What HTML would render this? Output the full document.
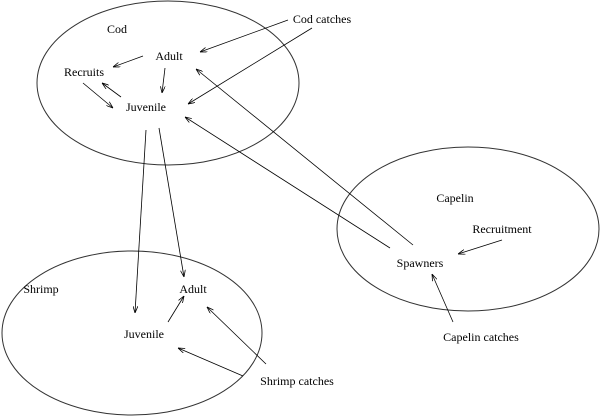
<!DOCTYPE html>
<html><head><meta charset="utf-8"><style>
html,body{margin:0;padding:0;background:#fff;width:600px;height:416px;overflow:hidden}
text{font-family:'Liberation Serif','Times New Roman','DejaVu Serif',serif;font-size:12px}
</style></head><body>
<svg width="600" height="416" viewBox="0 0 600 416" xmlns="http://www.w3.org/2000/svg">
<defs><marker id="a" markerWidth="7" markerHeight="5" refX="7" refY="2.5" orient="auto" markerUnits="userSpaceOnUse"><path d="M0,0 L7,2.5 L0,5" fill="none" stroke="#000" stroke-width="0.8"/></marker></defs>
<g fill="none" stroke="#333" stroke-width="1">
<ellipse cx="168" cy="83" rx="131" ry="82"/>
<ellipse cx="132" cy="333" rx="130" ry="82"/>
<ellipse cx="468" cy="229" rx="131" ry="82"/>
</g>
<g stroke="#000" stroke-width="0.8" marker-end="url(#a)">
<line x1="288" y1="20" x2="200" y2="52"/>
<line x1="312" y1="28" x2="188" y2="104"/>
<line x1="143" y1="56" x2="113" y2="67"/>
<line x1="165" y1="68" x2="162" y2="93"/>
<line x1="83" y1="83" x2="113" y2="108"/>
<line x1="121" y1="97" x2="102" y2="83"/>
<line x1="413" y1="245" x2="196" y2="69"/>
<line x1="390" y1="248" x2="185" y2="117"/>
<line x1="146" y1="130" x2="135" y2="313"/>
<line x1="159" y1="128" x2="184" y2="277"/>
<line x1="168" y1="322" x2="184" y2="296"/>
<line x1="266" y1="364" x2="207" y2="307"/>
<line x1="243" y1="376" x2="178" y2="348"/>
<line x1="502" y1="240" x2="458" y2="254"/>
<line x1="453" y1="322" x2="432" y2="274"/>
</g>
<g text-anchor="middle" fill="#000">
<text x="117" y="33">Cod</text>
<text x="169" y="60">Adult</text>
<text x="84" y="76">Recruits</text>
<text x="146" y="111">Juvenile</text>
<text x="322" y="23">Cod catches</text>
<text x="41" y="293">Shrimp</text>
<text x="193" y="293">Adult</text>
<text x="144" y="338">Juvenile</text>
<text x="297" y="385">Shrimp catches</text>
<text x="455" y="202">Capelin</text>
<text x="502" y="233">Recruitment</text>
<text x="420" y="267">Spawners</text>
<text x="481" y="341">Capelin catches</text>
</g>
</svg>
</body></html>
